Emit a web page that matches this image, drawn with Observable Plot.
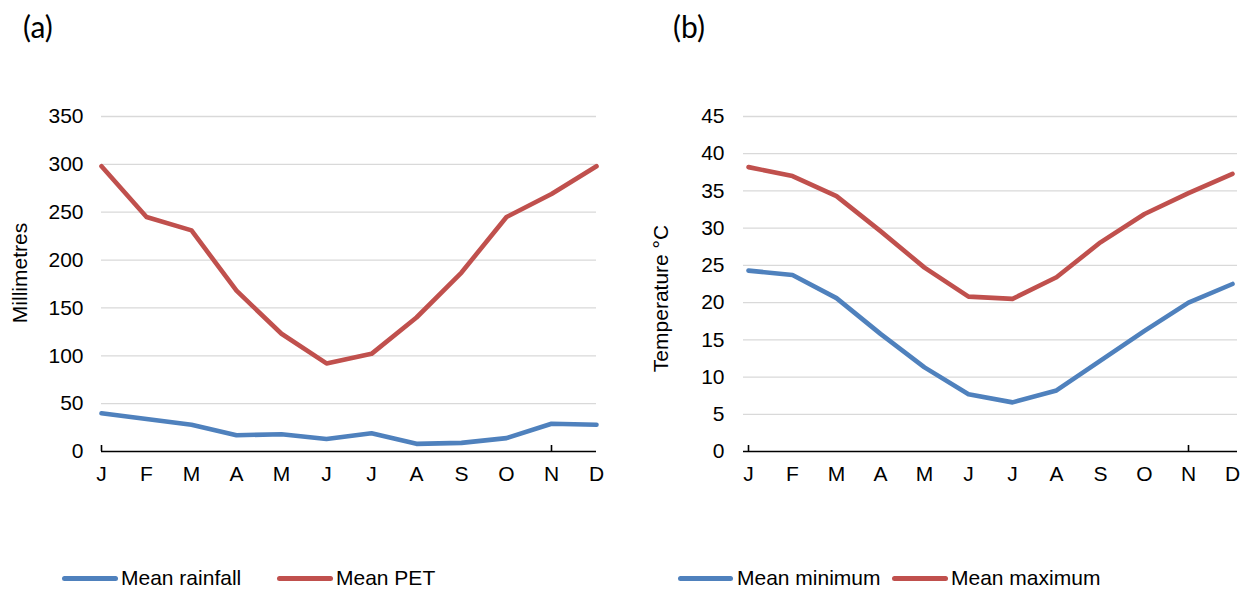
<!DOCTYPE html>
<html>
<head>
<meta charset="utf-8">
<script src="https://cdn.jsdelivr.net/npm/d3@7"></script>
<script src="https://cdn.jsdelivr.net/npm/@observablehq/plot@0.6"></script>
<style>
  body { margin: 0; background: #fff; }
  #wrap { position: relative; width: 1252px; height: 590px; overflow: hidden;
          font-family: "Liberation Sans", Arial, sans-serif; color: #000; }
  .panel { position: absolute; top: 0; }
  .plabel { position: absolute; top: 7px; font-family: Lato, "Open Sans", sans-serif; font-size: 30px; line-height: 38px; }
  .sw { position: absolute; top: 575.5px; height: 5px; border-radius: 3px; }
  .lt { position: absolute; top: 566px; font-size: 21px; line-height: 24px; white-space: nowrap; }
</style>
</head>
<body>
<div id="wrap"></div>
<script>
// ---- data ----
const months = ["Jan","Feb","Mar","Apr","May","Jun","Jul","Aug","Sep","Oct","Nov","Dec"];
const monthLabels = ["J","F","M","A","M","J","J","A","S","O","N","D"];

const rainfall = [40, 34, 28, 17, 18, 13, 19, 8, 9, 14, 29, 28];
const pet      = [298, 245, 231, 168, 123, 92, 102, 140, 187, 245, 269, 298];

const tMin = [24.3, 23.7, 20.6, 15.8, 11.3, 7.7, 6.6, 8.2, 12.2, 16.2, 20.0, 22.5];
const tMax = [38.2, 37.0, 34.3, 29.6, 24.7, 20.8, 20.5, 23.4, 28.1, 31.9, 34.7, 37.3];

const ticksA = [0, 50, 100, 150, 200, 250, 300, 350];
const ticksB = [0, 5, 10, 15, 20, 25, 30, 35, 40, 45];

const seriesA = ["Mean rainfall", "Mean PET"];
const seriesB = ["Mean minimum", "Mean maximum"];
const colors = ["#4F81BD", "#C0504D"];

// ---- chart builder ----
function chart({values, ticks, label, marginLeft, marginRight, tickPadding, labelDx, labelDy}) {
  const W = 626, H = 491, mt = 116, mb = 40;
  const frameH = H - mt - mb;
  return Plot.plot({
    width: W, height: H,
    marginTop: mt, marginBottom: mb, marginLeft, marginRight,
    style: {fontFamily: '"Liberation Sans", Arial, sans-serif', fontSize: "21px", color: "#000", background: "transparent"},
    x: {type: "point", domain: months, padding: 0, axis: null},
    y: {domain: [ticks[0], ticks[ticks.length - 1]], axis: null},
    marks: [
      Plot.gridY(ticks.slice(1), {stroke: "#d9d9d9", strokeOpacity: 1, strokeWidth: 1.3}),
      Plot.axisY(ticks, {tickSize: 0, tickPadding, fill: "#000", fontSize: 21}),
      Plot.axisX(months, {tickSize: 0, tickPadding: 15, fill: "#000", fontSize: 21,
                          tickFormat: d => monthLabels[months.indexOf(d)]}),
      Plot.ruleY([ticks[0]], {stroke: "#000", strokeWidth: 1.6}),
      Plot.tickX([months[0], months[10]], {x: d => d, insetTop: frameH - 6, stroke: "#000", strokeWidth: 1.6}),
      ...values.map((vals, k) =>
        Plot.line(months, {x: d => d, y: (d, i) => vals[i], stroke: colors[k],
                           strokeWidth: 4.6, strokeLinejoin: "round", strokeLinecap: "round"})),
      Plot.text([label], {frameAnchor: "left", textAnchor: "middle", rotate: -90, dx: labelDx, dy: labelDy,
                          fontSize: 21, fill: "#000"})
    ]
  });
}

const wrap = document.getElementById("wrap");

function addPanel(left, svg, tag, tagLeft, legend) {
  const p = document.createElement("div");
  p.className = "panel";
  p.style.left = left + "px";
  p.appendChild(svg);
  wrap.appendChild(p);
  const t = document.createElement("div");
  t.className = "plabel";
  t.style.left = tagLeft + "px";
  t.textContent = tag;
  wrap.appendChild(t);
  legend.forEach(({name, color, x0, x1, tx}) => {
    const s = document.createElement("div");
    s.className = "sw";
    s.style.left = x0 + "px";
    s.style.width = (x1 - x0) + "px";
    s.style.background = color;
    wrap.appendChild(s);
    const l = document.createElement("div");
    l.className = "lt";
    l.style.left = tx + "px";
    l.textContent = name;
    wrap.appendChild(l);
  });
}

addPanel(0, chart({values: [rainfall, pet], ticks: ticksA, label: "Millimetres",
                   marginLeft: 101, marginRight: 30, tickPadding: 18, labelDx: -81.5, labelDy: -11}),
  "(a)", 23,
  [{name: seriesA[0], color: colors[0], x0: 62, x1: 118, tx: 121},
   {name: seriesA[1], color: colors[1], x0: 277, x1: 333, tx: 336}]);

addPanel(626, chart({values: [tMin, tMax], ticks: ticksB, label: "Temperature °C",
                     marginLeft: 117, marginRight: 15, tickPadding: 19, labelDx: -82.5, labelDy: 14.5}),
  "(b)", 673,
  [{name: seriesB[0], color: colors[0], x0: 678, x1: 733, tx: 737},
   {name: seriesB[1], color: colors[1], x0: 892, x1: 948, tx: 951}]);
</script>
</body>
</html>
